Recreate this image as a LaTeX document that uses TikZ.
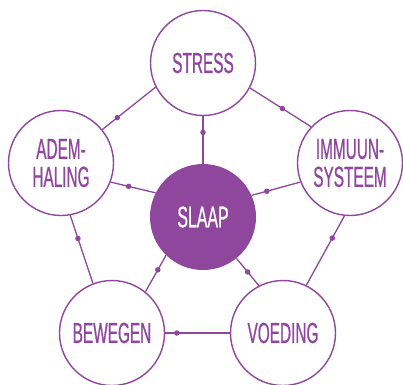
\documentclass[tikz,border=0pt]{standalone}
\usepackage{fontspec}
\newfontfamily\condfont[FakeStretch=0.53,FakeBold=0.6]{Liberation Sans}
\definecolor{vio}{RGB}{143,70,157}
\tikzset{
  outer/.style={circle,draw=vio,line width=1.4pt,fill=white,minimum size=105pt,inner sep=0pt,
    font=\condfont\fontsize{29}{28}\selectfont,text=vio,align=center},
  core/.style={circle,fill=vio,minimum size=106pt,inner sep=0pt,
    font=\condfont\fontsize{30}{28}\selectfont,text=white,align=center},
  link/.style={draw=vio,line width=1.3pt},
  dotm/.style={circle,fill=vio,inner sep=0pt,minimum size=5.5pt}
}
\begin{document}
\begin{tikzpicture}[x=1pt,y=-1pt]
\useasboundingbox (0,0) rectangle (403,384);
\node[outer] (stress) at (203,63) {STRESS};
\node[outer] (adem) at (61,163) {ADEM-\\HALING};
\node[outer] (immuun) at (350,163) {IMMUUN-\\SYSTEEM};
\node[outer] (bewegen) at (112,333) {BEWEGEN};
\node[outer] (voeding) at (283,333) {VOEDING};
\node[core] (slaap) at (203,217) {SLAAP};
% outer ring
\draw[link] (adem.39) -- node[dotm,pos=0.28]{} (stress.207);
\draw[link] (stress.332) -- node[dotm,pos=0.53]{} (immuun.137);
\draw[link] (adem.280) -- node[dotm,pos=0.34]{} (bewegen.111);
\draw[link] (immuun.264) -- node[dotm,pos=0.32]{} (voeding.64);
\draw[link] (bewegen.0) -- node[dotm,pos=0.18]{} (voeding.180);
% spokes
\draw[link] (stress.270) -- node[dotm,pos=0.34]{} (slaap.90);
\draw[link] (adem.339) -- node[dotm,pos=0.4]{} (slaap.153);
\draw[link] (immuun.201) -- node[dotm,pos=0.69]{} (slaap.24);
\draw[link] (bewegen.51) -- node[dotm,pos=0.6]{} (slaap.226);
\draw[link] (voeding.117) -- node[dotm,pos=0.5]{} (slaap.309);
\end{tikzpicture}
\end{document}
